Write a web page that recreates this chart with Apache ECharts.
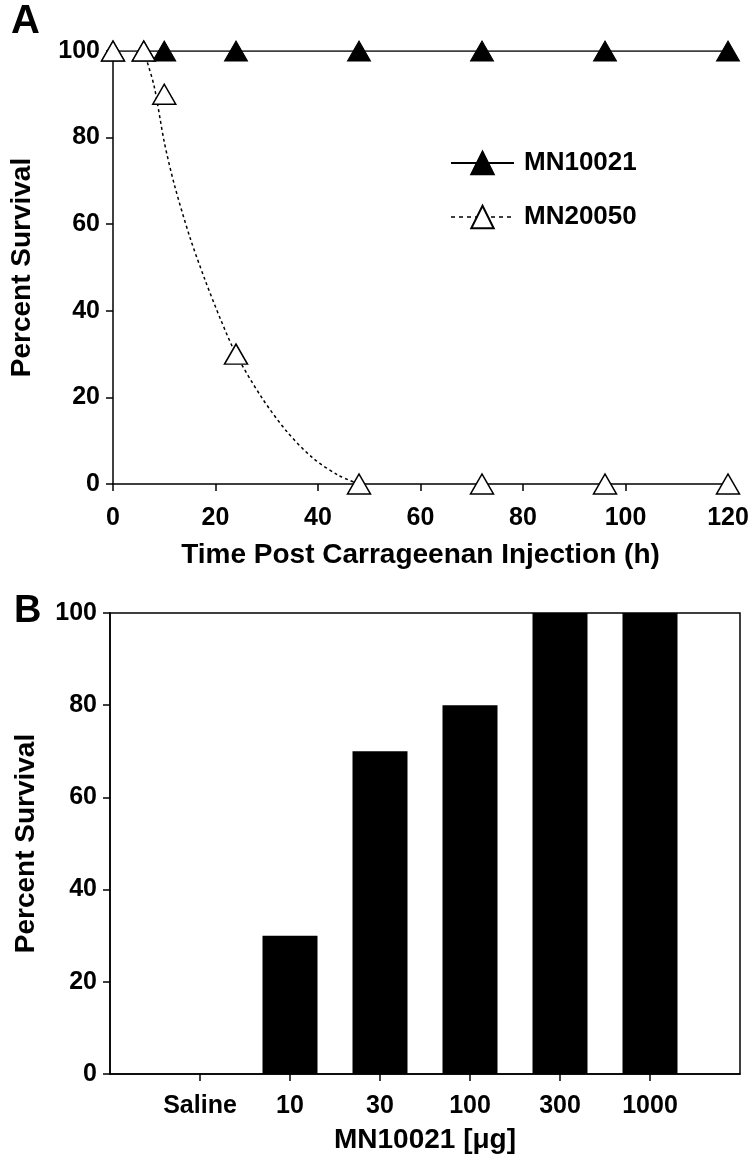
<!DOCTYPE html>
<html><head><meta charset="utf-8">
<script src="https://cdn.jsdelivr.net/npm/echarts@6/dist/echarts.min.js"></script>
<style>html,body{margin:0;padding:0;background:#fff}#c{width:756px;height:1165px}</style>
</head><body><div id="c"></div>
<script>
// Panel A: observed survival (%) at each time point (h)
const timeA = [0, 6, 10, 24, 48, 72, 96, 120];
const mn10021 = [100, 100, 100, 100, 100, 100, 100, 100];
const mn20050 = [100, 100, 90, 30, 0, 0, 0, 0];
// Panel A: dotted fitted curve for MN20050
const fitTime = [6, 8, 10, 12, 15, 18, 21, 24, 29, 34, 39, 44, 48];
const fitSurvival = [100, 92, 79, 69, 57, 47, 38, 30, 20, 12, 6, 2, 0];
// Panel B
const categoriesB = ['Saline', '10', '30', '100', '300', '1000'];
const survivalB = [0, 30, 70, 80, 100, 100];

const FONT = '"Liberation Sans", Arial, Helvetica, sans-serif';
const lbl = {color: '#000', fontFamily: FONT, fontWeight: 'bold', fontSize: 25};
const nameStyle = {fontFamily: FONT, fontWeight: 'bold', fontSize: 28, color: '#000'};
const axisLine = {show: true, lineStyle: {color: '#000', width: 1.5}};
const axisTick = {show: true, inside: false, length: 7, lineStyle: {color: '#000', width: 1.5}};

const catsB = [''].concat(categoriesB, ['']);
const barData = [null].concat(survivalB, [null]);

const chart = echarts.init(document.getElementById('c'), null, {renderer: 'canvas'});
chart.setOption({
  animation: false,
  backgroundColor: '#fff',
  title: [
    {text: 'A', left: 6, top: -3, textStyle: {fontFamily: FONT, fontWeight: 'bold', fontSize: 40, color: '#000'}},
    {text: 'B', left: 9, top: 588, textStyle: {fontFamily: FONT, fontWeight: 'bold', fontSize: 38, color: '#000'}}
  ],
  legend: {
    orient: 'vertical', left: 445, top: 145, itemWidth: 63, itemHeight: 28, itemGap: 28,
    textStyle: {fontFamily: FONT, fontWeight: 'bold', fontSize: 26, color: '#000', padding: [0, 0, 0, 5]},
    data: [
      {name: 'MN10021'},
      {name: 'MN20050', lineStyle: {opacity: 1, color: '#000', width: 1.5, type: [4, 4]}}
    ]
  },
  grid: [
    {left: 108, right: 28, top: 51, bottom: 1165 - 484},
    {left: 110, right: 16, top: 613, bottom: 1165 - 1074, show: true, borderColor: '#000', borderWidth: 1.5, backgroundColor: 'transparent'}
  ],
  xAxis: [
    {gridIndex: 0, type: 'value', min: 0, max: 120, interval: 20, axisLine, axisTick, splitLine: {show: false},
     axisLabel: Object.assign({margin: 22}, lbl),
     name: 'Time Post Carrageenan Injection (h)', nameLocation: 'middle', nameGap: 57, nameTextStyle: nameStyle},
    {gridIndex: 1, type: 'category', data: catsB, boundaryGap: false, axisLine,
     axisTick: Object.assign({}, axisTick, {interval: (i, v) => v !== ''}),
     axisLabel: Object.assign({margin: 20, interval: 0}, lbl), splitLine: {show: false},
     name: 'MN10021 [\u03bcg]', nameLocation: 'middle', nameGap: 52, nameTextStyle: nameStyle}
  ],
  yAxis: [
    {gridIndex: 0, type: 'value', min: 0, max: 100, interval: 20, axisLine, axisTick, splitLine: {show: false},
     axisLabel: Object.assign({margin: 13}, lbl),
     name: 'Percent Survival', nameLocation: 'middle', nameGap: 77, nameTextStyle: nameStyle},
    {gridIndex: 1, type: 'value', min: 0, max: 100, interval: 20, axisLine, axisTick, splitLine: {show: false},
     axisLabel: Object.assign({margin: 13}, lbl),
     name: 'Percent Survival', nameLocation: 'middle', nameGap: 70, nameTextStyle: nameStyle}
  ],
  series: [
    {name: 'MN10021', type: 'line', xAxisIndex: 0, yAxisIndex: 0, z: 2,
     data: timeA.map((t, i) => [t, mn10021[i]]),
     symbol: 'triangle', symbolSize: [23, 20], showAllSymbol: true,
     itemStyle: {color: '#000', borderColor: '#000', borderWidth: 1},
     lineStyle: {color: '#000', width: 1.5, type: 'solid'}},
    {name: 'MN20050 fit', type: 'line', xAxisIndex: 0, yAxisIndex: 0, z: 3,
     data: fitTime.map((t, i) => [t, fitSurvival[i]]),
     smooth: 0.3, showSymbol: false, symbol: 'none', silent: true,
     lineStyle: {color: '#000', width: 1.5, type: [3, 3]}},
    {name: 'MN20050', type: 'line', xAxisIndex: 0, yAxisIndex: 0, z: 4,
     data: timeA.map((t, i) => [t, mn20050[i]]),
     symbol: 'triangle', symbolSize: [23, 20], showAllSymbol: true,
     itemStyle: {color: '#fff', borderColor: '#000', borderWidth: 1.5},
     lineStyle: {color: '#000', width: 1.5, type: [4, 4], opacity: 0}},
    {name: 'Survival', type: 'bar', xAxisIndex: 1, yAxisIndex: 1,
     data: barData, barWidth: 55, itemStyle: {color: '#000'}}
  ]
});
</script></body></html>
